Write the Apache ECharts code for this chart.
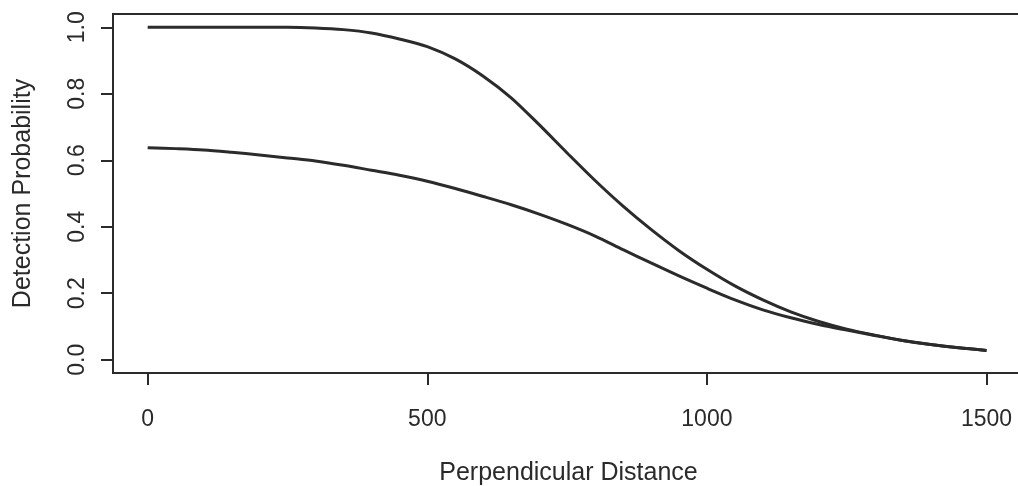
<!DOCTYPE html>
<html>
<head>
<meta charset="utf-8">
<script src="https://cdn.jsdelivr.net/npm/echarts@6/dist/echarts.min.js"></script>
<style>
  html, body { margin: 0; padding: 0; background: #ffffff; }
  #chart { width: 1018px; height: 486px; }
</style>
</head>
<body>
<div id="chart"></div>
<script>
// Perpendicular distance (m) at which detection probability is evaluated
const distances = [0, 50, 100, 150, 200, 250, 300, 350, 400, 450, 500, 550, 600, 650, 700,
  750, 800, 850, 900, 950, 1000, 1050, 1100, 1150, 1200, 1250, 1300, 1350, 1400, 1450, 1500];

// Detection function with perfect detection on the line
const upperCurve = [1.000, 1.000, 1.000, 1.000, 1.000, 1.000, 0.998, 0.993, 0.983, 0.965,
  0.942, 0.905, 0.853, 0.788, 0.707, 0.622, 0.539, 0.462, 0.392, 0.328, 0.272, 0.222,
  0.180, 0.144, 0.115, 0.092, 0.074, 0.058, 0.046, 0.036, 0.028];

// Detection function with reduced detection on the line
const lowerCurve = [0.638, 0.635, 0.631, 0.624, 0.616, 0.607, 0.598, 0.585, 0.570, 0.555,
  0.537, 0.515, 0.491, 0.466, 0.438, 0.407, 0.372, 0.331, 0.291, 0.252, 0.215, 0.180,
  0.150, 0.126, 0.106, 0.089, 0.073, 0.058, 0.046, 0.036, 0.028];

const xTicks = [0, 500, 1000, 1500];
const yTicks = [0, 0.2, 0.4, 0.6, 0.8, 1.0];

const ink = '#2b2b2b';
const textInk = '#2a2a2a';
const font = 'Liberation Sans, Arial, sans-serif';

const toPairs = (xs, ys) => xs.map((x, i) => [x, ys[i]]);

const chart = echarts.init(document.getElementById('chart'), null, { renderer: 'canvas' });

chart.setOption({
  backgroundColor: '#ffffff',
  animation: false,
  grid: {
    left: 113, top: 14, right: -6, bottom: 113,
    containLabel: false,
    outerBoundsMode: 'none',
    show: true, borderColor: ink, borderWidth: 2, backgroundColor: 'transparent'
  },
  xAxis: {
    type: 'value',
    min: -62, max: 1567,
    name: 'Perpendicular Distance',
    nameLocation: 'middle',
    nameGap: 88,
    nameTextStyle: { fontFamily: font, fontSize: 25, color: textInk },
    axisLine: { show: true, onZero: false, lineStyle: { color: ink, width: 2 } },
    axisTick: { show: true, inside: false, length: 12, customValues: xTicks, lineStyle: { color: ink, width: 2 } },
    axisLabel: {
      show: true, customValues: xTicks, margin: 35,
      fontFamily: font, fontSize: 23, color: textInk,
      formatter: v => String(v)
    },
    splitLine: { show: false }
  },
  yAxis: {
    type: 'value',
    min: -0.04, max: 1.04,
    name: 'Detection Probability',
    nameLocation: 'middle',
    nameGap: 77,
    nameRotate: 90,
    nameTextStyle: { fontFamily: font, fontSize: 25, color: textInk },
    axisLine: { show: true, onZero: false, lineStyle: { color: ink, width: 2 } },
    axisTick: { show: true, inside: false, length: 12, customValues: yTicks, lineStyle: { color: ink, width: 2 } },
    axisLabel: {
      show: true, customValues: yTicks, rotate: 90, margin: 24,
      fontFamily: font, fontSize: 23, color: textInk,
      formatter: v => v.toFixed(1)
    },
    splitLine: { show: false }
  },
  series: [
    {
      type: 'line',
      data: toPairs(distances, upperCurve),
      showSymbol: false,
      smooth: 0.3,
      lineStyle: { color: ink, width: 3 }
    },
    {
      type: 'line',
      data: toPairs(distances, lowerCurve),
      showSymbol: false,
      smooth: 0.3,
      lineStyle: { color: ink, width: 3 }
    }
  ]
});
</script>
</body>
</html>
